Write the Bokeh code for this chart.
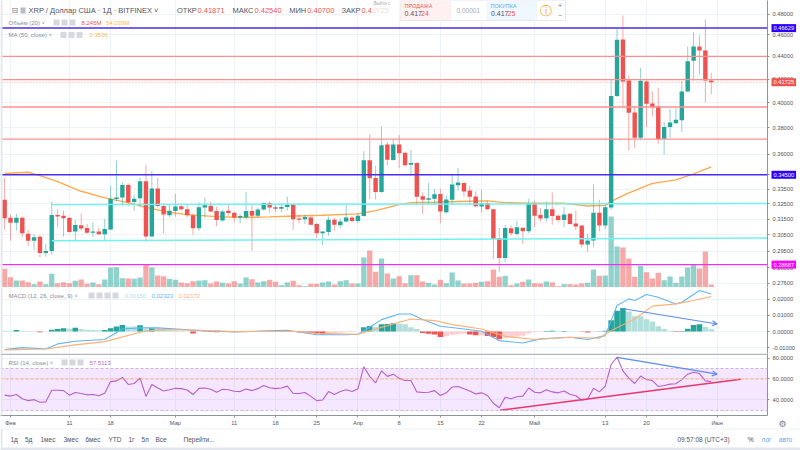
from bokeh.plotting import figure
from bokeh.layouts import column
from bokeh.embed import file_html
from bokeh.resources import INLINE
from bokeh.models import (Range1d, LinearScale, FixedTicker, BoxAnnotation, Label, Span, Arrow,
                          OpenHead, NumeralTickFormatter)

FONT = "Liberation Sans"
GREEN, RED = "#26a69a", "#ef5350"
GRID = "#eef3f7"
EDGE = "#e3e6ec"

# ---- data, one entry per day, day 0 = 1 Feb, from 31 Jan to 31 May ----
opens = [.3277,.3158,.3127,.3158,.3057,.3013,.3038,.2938,.2950,.3177,.3172,.3158,.3070,.3110,.3093,.3063,.3070,.3053,.3084,.3283,
 .3292,.3379,.3263,.3288,.3404,.3040,.3354,.3236,.3175,.3203,.3234,.3214,.3175,.3091,.3225,.3238,.3203,.3140,.3205,.3192,
 .3161,.3161,.3203,.3172,.3212,.3256,.3227,.3218,.3229,.3245,.3153,.3149,.3160,.3119,.3059,.3068,.3146,.3110,.3134,.3160,
 .3138,.3170,.3554,.3428,.3331,.3672,.3557,.3672,.3609,.3521,.3535,.3301,.3277,.3285,.3317,.3194,.3277,.3376,.3393,.3340,
 .3299,.3232,.3256,.3214,.3030,.2908,.3091,.3055,.3095,.3072,.3254,.3177,.3155,.3214,.3172,.3144,.3184,.3121,.3108,.2990,
 .3015,.3192,.3108,.3225,.4055,.4556,.4187,.3921,.3723,.4178,.3994,.3970,.3715,.3805,.3836,.3859,.4094,.4360,.4490,.4453,.4187]
closes = [.3155,.3127,.3158,.3059,.3013,.3034,.2938,.2950,.3177,.3166,.3155,.3068,.3112,.3089,.3063,.3070,.3053,.3087,.3285,.3292,
 .3379,.3261,.3285,.3404,.3040,.3354,.3236,.3179,.3205,.3232,.3214,.3175,.3091,.3227,.3240,.3199,.3144,.3200,.3190,.3161,
 .3170,.3203,.3172,.3212,.3256,.3225,.3218,.3229,.3245,.3149,.3146,.3164,.3114,.3059,.3070,.3146,.3114,.3135,.3161,.3138,
 .3172,.3554,.3425,.3331,.3666,.3559,.3672,.3606,.3518,.3535,.3297,.3277,.3288,.3315,.3199,.3279,.3381,.3395,.3333,.3297,
 .3234,.3254,.3214,.3024,.2908,.3093,.3059,.3097,.3072,.3254,.3172,.3153,.3214,.3170,.3144,.3179,.3119,.3102,.2990,.3015,
 .3192,.3108,.3227,.4055,.4553,.4178,.3919,.3723,.4184,.3992,.3964,.3712,.3805,.3841,.3862,.4094,.4357,.4490,.4453,.4187,.4172]
highs = [.3430,.3177,.3184,.3166,.3080,.3055,.3049,.2993,.3263,.3214,.3205,.3160,.3144,.3187,.3119,.3129,.3093,.3151,.3374,.3552,
 .3397,.3390,.3313,.3428,.3521,.3475,.3428,.3245,.3245,.3317,.3245,.3245,.3184,.3261,.3294,.3267,.3232,.3210,.3245,.3197,
 .3184,.3331,.3245,.3227,.3261,.3265,.3245,.3250,.3299,.3254,.3179,.3179,.3166,.3127,.3072,.3166,.3158,.3151,.3245,.3166,
 .3187,.3621,.3748,.3514,.3810,.3689,.3715,.3743,.3613,.3631,.3538,.3328,.3393,.3352,.3352,.3306,.3452,.3499,.3397,.3372,
 .3335,.3345,.3272,.3216,.3093,.3112,.3108,.3140,.3095,.3283,.3272,.3223,.3267,.3328,.3179,.3232,.3187,.3205,.3108,.3055,
 .3381,.3277,.3238,.4204,.4657,.4785,.4230,.3970,.4298,.4187,.4096,.4125,.3844,.3951,.3959,.4181,.4490,.4622,.4593,.4746,.4254]
lows = [.3082,.3013,.3076,.3038,.2982,.2956,.2912,.2916,.2928,.3097,.3038,.3063,.3009,.3076,.3055,.3038,.3051,.3017,.3080,.3267,
 .3238,.3238,.3205,.3232,.3003,.3038,.3227,.3059,.3161,.3166,.3205,.3158,.3051,.3076,.3158,.3194,.3104,.3135,.3172,.3129,
 .3123,.3151,.2952,.3158,.3205,.3192,.3194,.3194,.3205,.3080,.3123,.3119,.3110,.3030,.2987,.3045,.3076,.3093,.3129,.3129,
 .3123,.3166,.3283,.3279,.3324,.3516,.3552,.3499,.3509,.3444,.3238,.3184,.3245,.3245,.3123,.3184,.3245,.3340,.3299,.3245,
 .3227,.3194,.3210,.2902,.2827,.2882,.3045,.3045,.2993,.3059,.3097,.3135,.3135,.3114,.3129,.3097,.3114,.3080,.2972,.2946,
 .2972,.3072,.3087,.3210,.4048,.3956,.3626,.3646,.3702,.3805,.3889,.3677,.3596,.3723,.3831,.3766,.4088,.4187,.4239,.4005,.4070]
volumes = [51.4,28.3,19.3,19.3,14.6,9.1,16.5,9.1,37.7,11.8,14.6,11.8,18.4,22,10.2,13.8,9.1,22,55,55.8,25.6,24.8,23.9,27.5,64.1,55,33,31.1,23.9,21.2,
 13.8,11.8,17.3,19.3,20.1,11,16.5,12.9,11,17.3,11,27.5,22.8,13.8,17.3,21.2,15.7,6.3,13.8,18.4,6.3,3.6,10.2,10.2,13.8,16.5,8.3,17.3,20.1,11,
 11,82.5,101.8,43.2,79.8,38.5,24.8,31.1,11.8,33.8,33.8,16.5,12.9,8.3,21.2,11.8,41.3,19.3,11,11,12.9,15.7,17.3,49.5,29.4,32.2,6.3,11,15.7,22,
 11.8,11,16.5,13.8,3.6,9.1,9.1,8.3,11,12.9,49.5,32.2,33,195.3,112.8,110,79.8,29.4,59.7,42.1,24.8,40.4,20.1,30.3,12.9,30.3,55,62.4,52.3,99,8.245]
rsi = [44.6,43.7,45.2,41.2,39.4,40.3,37.8,38.2,49.2,49.2,48.9,44.6,47.1,46.2,44.9,45.2,44,46.5,57.5,58.2,61.5,54.8,55.7,60.9,43.4,54.8,51.4,48.6,49.8,51.1,
 50.8,49.5,45.2,51.1,51.4,50.2,47.4,50.2,49.8,48.3,48,50.5,48.9,50.8,53.8,51.7,50.8,51.4,53.2,46.2,46.2,47.1,43.4,39.4,40,48,45.2,48,49.8,48,
 50.8,71.7,62.5,56.3,67.7,62.5,64.6,60.6,58.5,58.5,47.7,47.1,47.4,48.9,44.3,46.8,52.3,52.9,50.8,48.6,45.8,46.8,44.3,36.9,32.6,42.5,41.2,43.1,43.7,51.4,
 47.4,46.8,49.8,47.7,46.8,48.6,45.5,44,40,40.6,51.1,47.7,53.2,73.8,80.9,67.7,60.9,55.7,62.8,59.4,58.5,52.9,53.8,55.1,55.4,59.4,64.6,66.5,65.2,58.2,57.5]
macd_hist = [.0006,.0004,.0010,.0004,.0004,.0002,-.0004,.0001,.0012,.0016,.0020,.0018,.0023,.0016,.0012,.0010,.0008,.0010,.0020,.0032,.0041,.0032,.0032,.0039,.0016,.0021,.0020,.0010,.0008,.0006,
 .0003,.0001,-.0012,.0001,-.0001,-.0002,-.0004,-.0003,-.0002,-.0001,-.0002,.0001,.0001,.0002,.0003,.0003,.0005,.0006,.0006,.0002,-.0004,-.0005,-.0008,-.0012,-.0018,-.0018,-.0012,-.0006,-.0003,-.0003,
 .0001,.0027,.0035,.0030,.0045,.0047,.0052,.0048,.0045,.0027,.0016,-.0008,-.0014,-.0018,-.0033,-.0029,-.0020,-.0016,-.0014,-.0018,-.0023,-.0023,-.0027,-.0033,-.0047,-.0041,-.0037,-.0031,-.0025,-.0012,
 -.0004,-.0001,.0004,.0006,.0002,.0004,.0002,.0001,-.0001,-.0006,-.0002,.0002,.0006,.0070,.0128,.0145,.0124,.0095,.0095,.0076,.0062,.0033,.0016,.0006,-.0002,.0004,.0018,.0041,.0045,.0029,.0015]
ma_days = [-1,3,5,8,12,16,20,23,27,30,35,39,44,47,53,59,62,66,68,72,78,81,84,89,94,98,101,102,105,106,109,113,116,119]
ma_vals = [.3459,.3468,.3444,.3402,.3335,.3290,.3258,.3227,.3194,.3179,.3166,.3160,.3164,.3168,.3175,.3184,.3205,.3245,.3258,.3261,.3267,.3270,.3258,.3254,.3254,.3236,.3240,.3267,.3324,.3340,.3390,.3414,.3457,.3506]
macd_days = [-1,2,6,8,11,16,19,22,25,29,32,38,45,47,52,57,59,61,63,66,68,70,73,76,80,83,87,90,95,98,101,103,105,106,108,110,113,114,117,119]
macd_vals = [-.0111,-.0099,-.0107,-.0076,-.0060,-.0049,.0016,.0023,.0023,.0014,.0006,-.0002,.0006,.0008,-.0019,-.0019,-.0016,.0027,.0074,.0109,.0109,.0074,.0033,.0021,.0002,-.0056,-.0070,-.0045,-.0035,-.0049,-.0025,.0161,.0202,.0192,.0229,.0212,.0171,.0181,.0254,.0232]
signal_days = [-1,6,11,16,22,25,31,38,48,52,59,66,68,72,75,80,84,89,95,100,102,106,109,113,116,119]
signal_vals = [-.0113,-.0107,-.0082,-.0062,-.0004,.0012,.0010,0,.0002,-.0010,-.0016,.0058,.0078,.0068,.0043,.0016,-.0029,-.0049,-.0035,-.0041,.0006,.0078,.0157,.0171,.0192,.0217]

days = list(range(-1, 120))
for s in (opens, closes, highs, lows, volumes, rsi, macd_hist):
    assert len(s) == len(days), len(s)

tick_days = [0,10,17,28,38,45,52,59,66,73,80,89,101,108,120]
tick_names = ["Фев","11","18","Мар","11","18","25","Апр","8","15","22","Май","13","20","Июн"]
price_ticks = [.48,.46,.44,.42,.40,.38,.36,.345,.335,.325,.315,.305,.295,.285,.276]
macd_ticks = [.02,.01,0,-.01]
rsi_ticks = [80,60,40]
price_levels_red = [.44,.4195,.3966,.3712]
cyan_days = [7,128.6]
cyan_top = [.3245,.3252]
cyan_low = [.3013,.3030]
blue_levels = [.46629,.345]
magenta_level = .28687
last_price = .41725
rsi_trend_days, rsi_trend_vals = [83.1,124], [30.2,59.7]

XR = (-1.7, 128.55)
colors = [GREEN if c >= o else RED for o, c in zip(opens, closes)]


def base(h, top_ref, **kw):
    p = figure(width=800, height=h, x_range=Range1d(*XR), toolbar_location=None, output_backend="svg",
               y_axis_location="right", min_border=0, outline_line_color=None, frame_width=767, **kw)
    p.xgrid.ticker = FixedTicker(ticks=tick_days)
    p.xgrid.grid_line_color = GRID
    p.ygrid.grid_line_color = GRID
    p.background_fill_color = "white"
    p._top = top_ref
    return p


def style_y(p, ticks, fmt):
    ax = p.yaxis[0]
    ax.ticker = FixedTicker(ticks=ticks, minor_ticks=[])
    ax.formatter = NumeralTickFormatter(format=fmt)
    ax.major_label_text_font = FONT
    ax.major_label_text_font_size = "5.7px"
    ax.major_label_text_color = "#50535e"
    ax.major_label_standoff = 3
    ax.major_tick_out = 2
    ax.major_tick_in = 0
    ax.minor_tick_out = 0
    ax.minor_tick_in = 0
    ax.axis_line_color = "#8f939c"
    ax.major_tick_line_color = "#8f939c"
    ax.minor_tick_line_color = None
    p.ygrid.ticker = FixedTicker(ticks=ticks, minor_ticks=[])
    p.ygrid.minor_grid_line_color = None


def lab(p, x, y, txt, color="#8a8d96", size=6, align="left", font=FONT, side=None):
    l = Label(x=x, y=y - p._top, x_units="canvas", y_units="canvas", text=txt, text_color=color,
              text_font=font, text_font_size=f"{size}px", text_align=align, text_baseline="middle")
    p.add_layout(l, side) if side else p.add_layout(l)


def rect(p, l, r, t, b, color, alpha=1.0, line=None, side=None):
    a = BoxAnnotation(left=l, right=r, top=t - p._top, bottom=b - p._top, left_units="canvas",
                      right_units="canvas", top_units="canvas", bottom_units="canvas", fill_color=color,
                      fill_alpha=alpha, line_color=line, line_alpha=1.0 if line else 0)
    p.add_layout(a, side) if side else p.add_layout(a)


def icons(p, x, y, n=3):
    for i in range(n):
        rect(p, x + i * 8, x + i * 8 + 6, y - 3, y + 3, "#d6d8de")


def tag(p, y, txt, color):
    p.add_layout(Label(x=771, y=y, x_units="canvas", y_units="data", text=txt, text_color="white", text_font=FONT,
                       text_font_size="5.7px", text_baseline="middle", background_fill_color=color, padding=2), "right")


# ---- price pane: log scale, volume on its own linear scale ----
p1 = base(287, 0, y_axis_type="log", y_range=Range1d(.2737, .4935))
p1.xaxis.visible = False
p1.extra_y_ranges = {"vol": Range1d(0, 789)}
p1.extra_y_scales = {"vol": LinearScale()}
style_y(p1, price_ticks, "0.00000")
p1.vbar(x=days, top=volumes, bottom=0, width=0.9, color=colors, fill_alpha=.5, line_alpha=0, y_range_name="vol")
p1.line(ma_days, ma_vals, line_color="#ffa94d", line_width=1.4)
p1.segment(x0=days, x1=days, y0=lows, y1=highs, line_color=colors, line_alpha=.5, line_width=1)
p1.vbar(x=days, top=[max(a, b) for a, b in zip(opens, closes)], bottom=[min(a, b) for a, b in zip(opens, closes)],
        width=0.75, color=colors, line_alpha=0)
for v in price_levels_red:
    p1.add_layout(Span(location=v, dimension="width", line_color="#ff8f8f", line_width=1.4))
p1.add_layout(Span(location=last_price, dimension="width", line_color="#ef5350", line_width=.8, line_dash="1 2", line_alpha=.7))
p1.line(cyan_days, cyan_top, line_color="#6ef3f3", line_width=1.4)
p1.line(cyan_days, cyan_low, line_color="#6ef3f3", line_width=1.4)
for v in blue_levels:
    p1.add_layout(Span(location=v, dimension="width", line_color="#4a2cf0", line_width=1.5))
p1.add_layout(Span(location=magenta_level, dimension="width", line_color="#f030f0", line_width=1.4))
tag(p1, blue_levels[0], "0.46629", "#2a00ff")
tag(p1, last_price, "0.41725", RED)
tag(p1, blue_levels[1], "0.34500", "#2a00ff")
tag(p1, magenta_level, "0.28687", "#ff00ff")

# header and legends
rect(p1, 0, 2, 0, 287, EDGE)
lab(p1, 11, 10, "⊟", "#777", 8, font="DejaVu Sans")
rect(p1, 20, 25, 7, 13, "#b9bcc4")
lab(p1, 28, 10, "XRP / Доллар США · 1Д · BITFINEX ˅", "#50535e", 7.5)
for x, name, vx, val in [(176.5, "ОТКР", 197, "0.41871"), (232, "МАКС", 254, "0.42540"),
                         (288.7, "МИН", 306.7, "0.40700"), (341, "ЗАКР", 361, "0.41725")]:
    lab(p1, x, 10, name, "#50535e", 7.5)
    lab(p1, vx, 10, val, RED, 7.5)
lab(p1, 8, 22, "Объём (20) ˅", "#8a8d96", 6)
icons(p1, 53, 22)
lab(p1, 81, 22, "8.245M", RED, 6)
lab(p1, 105.5, 22, "54.039M", "#ffb74d", 6)
lab(p1, 8, 34.5, "MA (50, close) ˅", "#8a8d96", 6)
icons(p1, 60, 34.5)
lab(p1, 89, 34.5, "0.3506", "#ffb74d", 6)

# quote box at the top
rect(p1, 371, 399, 0, 20, "#ffffff", .75)
lab(p1, 373, 3, "Выйти с", "#a8abb3", 4.5)
rect(p1, 400, 565, 0, 20, "#ffffff", 1, "#e6e8ee")
rect(p1, 400, 451, 0, 19.5, "#fff1f1")
rect(p1, 486, 537, 0, 19.5, "#eff7ff")
lab(p1, 404, 5.5, "ПРОДАЖА", RED, 5.5)
lab(p1, 404, 13, "0.417", "#50535e", 7)
lab(p1, 420.5, 13, "24", RED, 7)
lab(p1, 456, 10, "0.00001", "#a8abb3", 6.5)
lab(p1, 490, 5.5, "ПОКУПКА", "#5aa9ee", 5.5)
lab(p1, 490.5, 13, "0.417", "#50535e", 7)
lab(p1, 507, 13, "25", RED, 7)
lab(p1, 545.5, 10, "ⓘ", "#f5a623", 12, "center", "DejaVu Sans")
lab(p1, 559.5, 5, "+", "#787b86", 7, "center")
lab(p1, 559.5, 15, "−", "#787b86", 7, "center")

# ---- MACD pane ----
p2 = base(66, 287, y_range=Range1d(-.01352, .02722))
p2.xaxis.visible = False
style_y(p2, macd_ticks, "0.00000")
hist_colors = []
for i, v in enumerate(macd_hist):
    prev = macd_hist[i - 1] if i else v
    if v >= 0:
        hist_colors.append(GREEN if v > prev else "#b2dfdb")
    else:
        hist_colors.append(RED if v < prev else "#ffcdd2")
p2.vbar(x=days, top=macd_hist, bottom=0, width=.95, color=hist_colors, line_alpha=0)
p2.line(macd_days, macd_vals, line_color="#64b5f6", line_width=1.1)
p2.line(signal_days, signal_vals, line_color="#ffb074", line_width=1.1)
p2.add_layout(Arrow(end=OpenHead(size=5, line_color="#5b8def", line_width=1.2), x_start=103.6, y_start=.0144, x_end=120, y_end=.0047,
                    line_color="#5b8def", line_width=1.2))
rect(p2, 0, 2, 287, 353, EDGE)
lab(p2, 8, 295, "MACD (12, 26, close, 9) ˅", "#8a8d96", 6)
icons(p2, 88, 295, 4)
lab(p2, 124, 295, "0.00150", "#b2dfdb", 6)
lab(p2, 151, 295, "0.02323", "#64b5f6", 6)
lab(p2, 178, 295, "0.02172", "#ffb074", 6)

# ---- RSI pane with time axis ----
p3 = base(75, 353, y_range=Range1d(25.2, 84.3))
p3.min_border_bottom = 11
style_y(p3, rsi_ticks, "0.0000")
xa = p3.xaxis[0]
xa.ticker = FixedTicker(ticks=tick_days)
xa.major_label_overrides = {d: n for d, n in zip(tick_days, tick_names)}
xa.major_label_text_font = FONT
xa.major_label_text_font_size = "5.7px"
xa.major_label_text_color = "#50535e"
xa.major_label_standoff = 2
xa.major_tick_out = 2
xa.major_tick_in = 0
xa.axis_line_color = "#8f939c"
xa.major_tick_line_color = "#8f939c"
p3.add_layout(BoxAnnotation(bottom=30, top=70, fill_color="#9915ff", fill_alpha=.1, line_alpha=0))
for v, c in [(70, "#c9b8d8"), (30, "#c9b8d8"), (60, "#ffb074")]:
    p3.add_layout(Span(location=v, dimension="width", line_color=c, line_width=1, line_dash="3 2"))
p3.line(days, rsi, line_color="#ba68c8", line_width=1.1)
p3.line(rsi_trend_days, rsi_trend_vals, line_color="#f5395c", line_width=1.6)
p3.add_layout(Arrow(end=OpenHead(size=5, line_color="#5b8def", line_width=1.2), x_start=103, y_start=80.6, x_end=120, y_end=64.6,
                    line_color="#5b8def", line_width=1.2))
rect(p3, 0, 800, 353, 354.6, "#b4b6bc", side="right")
rect(p3, 0, 2, 354.6, 428, EDGE)
rect(p3, 767, 770, 378, 382, "#ffa94d", side="right")
lab(p3, 8, 362, "RSI (14, close) ˅", "#8a8d96", 6)
icons(p3, 61, 362)
lab(p3, 89, 362, "57.5113", "#ba68c8", 6)
lab(p3, 782, 423, "⚙", "#787b86", 9, "center", "DejaVu Sans", side="right")

# ---- footer ----
p4 = figure(width=800, height=22, x_range=Range1d(0, 800), y_range=Range1d(0, 22), toolbar_location=None,
            output_backend="svg", min_border=0, outline_line_color=None, x_axis_location=None, y_axis_location=None,
            frame_align=False)
p4.grid.visible = False
p4._top = 428
rect(p4, 0, 800, 428, 428.8, "#dfe1e6")
rect(p4, 0, 800, 447, 450, EDGE)
rect(p4, 0, 2, 428, 450, EDGE)
for x, t in [(10, "1д"), (24.5, "5д"), (40, "1мес"), (63, "3мес"), (85, "6мес"), (108, "YTD"), (128, "1г"), (141, "5л"), (155, "Все"), (183, "Перейти...")]:
    lab(p4, x, 439, t, "#50535e", 6.5)
lab(p4, 703, 439, "09:57:08 (UTC+3)", "#50535e", 6.5, "center")
lab(p4, 750, 439, "%", "#50535e", 7, "center")
lab(p4, 766, 439, "лог", "#5aa9ee", 6.5, "center")
lab(p4, 785, 439, "авто", "#5aa9ee", 6.5, "center")

page = column(p1, p2, p3, p4, spacing=0)
open("out.html", "w").write(file_html(page, INLINE))
